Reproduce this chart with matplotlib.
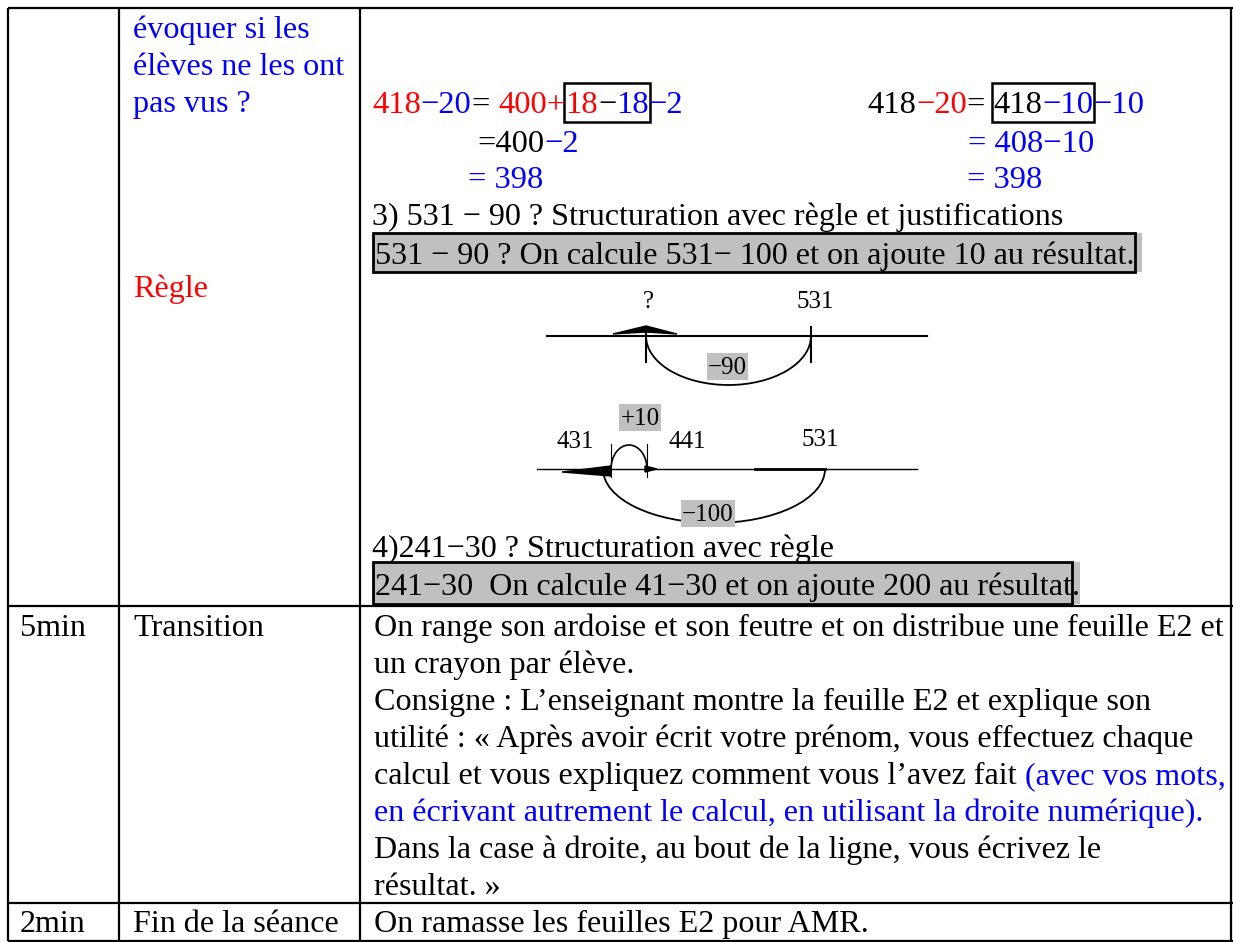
import matplotlib
matplotlib.use('Agg')
import matplotlib.pyplot as plt
from matplotlib.patches import Rectangle, Arc, Polygon

plt.rcParams['font.family'] = ['Liberation Serif', 'DejaVu Serif']

RED = '#ff0000'
BLUE = '#0000ff'
BLK = 'black'
GREY = '#c0c0c0'
FS = 23.1      # body text
FS_F = 23.4    # formulas
FS_NL = 18     # number line labels

# table text
col1 = ['5min', '2min']
col2_top_blue = ['évoquer si les', 'élèves ne les ont', 'pas vus ?']
col2_red = 'Règle'
col2 = ['Transition', 'Fin de la séance']

formula_left = [
    [('418', RED), ('−20', BLUE), ('= ', BLK), ('400+', RED), ('18', RED), ('−', BLK), ('18', BLUE), ('−2', BLUE)],
    [('=400', BLK), ('−2', BLUE)],
    [('= 398', BLUE)],
]
formula_right = [
    [('418', BLK), ('−20', RED), ('= ', BLK), ('418', BLK), ('−10', BLUE), ('−10', BLUE)],
    [('= 408−10', BLUE)],
    [('= 398', BLUE)],
]
step3 = '3) 531 − 90 ? Structuration avec règle et justifications'
rule3 = '531 − 90 ? On calcule 531− 100 et on ajoute 10 au résultat.'
step4 = '4)241−30 ? Structuration avec règle'
rule4 = '241−30  On calcule 41−30 et on ajoute 200 au résultat'

transition = [
    [('On range son ardoise et son feutre et on distribue une feuille E2 et', BLK)],
    [('un crayon par élève.', BLK)],
    [('Consigne : L’enseignant montre la feuille E2 et explique son', BLK)],
    [('utilité : « Après avoir écrit votre prénom, vous effectuez chaque', BLK)],
    [('calcul et vous expliquez comment vous l’avez fait ', BLK), ('(avec vos mots,', BLUE)],
    [('en écrivant autrement le calcul, en utilisant la droite numérique).', BLUE)],
    [('Dans la case à droite, au bout de la ligne, vous écrivez le', BLK)],
    [('résultat. »', BLK)],
]
fin = 'On ramasse les feuilles E2 pour AMR.'

# number lines
nl1_labels = ['?', '531']
nl1_jump = '−90'
nl2_labels = ['431', '441', '531']
nl2_jumps = ['+10', '−100']

fig = plt.figure(figsize=(12.33, 9.42), dpi=100)
ax = fig.add_axes([0, 0, 1, 1])
ax.set_xlim(0, 1233)
ax.set_ylim(942, 0)
ax.axis('off')
r = fig.canvas.get_renderer()


def width(s, size=FS):
    t = ax.text(0, 0, '|' + s + '|', fontsize=size)
    t2 = ax.text(0, 0, '||', fontsize=size)
    w = t.get_window_extent(r).width - t2.get_window_extent(r).width
    t.remove()
    t2.remove()
    return w


def runs(x, y, parts, size=FS):
    xs = [x]
    for s, c in parts:
        ax.text(x, y, s, color=c, fontsize=size, va='baseline', ha='left')
        x += width(s, size)
        xs.append(x)
    return xs


def label(x, y, s, size=FS_NL, bg=False):
    if bg:
        w = width(s, size)
        ax.add_patch(Rectangle((x - w / 2 - 1, y - 21), w + 2, 27, color=GREY, lw=0, zorder=1))
    ax.text(x, y, s, fontsize=size, ha='center', va='baseline', zorder=2)


# table borders
lw = 1.6
for y in [8, 606, 903, 941]:
    ax.plot([8, 1233], [y, y], color='black', lw=lw, solid_capstyle='butt')
for x in [8, 119, 360, 1231]:
    ax.plot([x, x], [8, 941], color='black', lw=lw, solid_capstyle='butt')

# column 2, first row
for i, s in enumerate(col2_top_blue):
    ax.text(133, 38 + 37 * i, s, color=BLUE, fontsize=FS, va='baseline')
ax.text(133, 297, col2_red, color=RED, fontsize=FS, va='baseline')

# formulas
ys = [113, 152, 188]
xs = runs(372, ys[0], formula_left[0], FS_F)
ax.add_patch(Rectangle((xs[4] - 1, 83), xs[7] - xs[4] + 2, 39, fill=False, ec='black', lw=1.8))
runs(477, ys[1], formula_left[1], FS_F)
runs(468, ys[2], formula_left[2], FS_F)

xs = runs(867, ys[0], formula_right[0], FS_F)
ax.add_patch(Rectangle((xs[3] - 1, 83), xs[5] - xs[3] + 2, 39, fill=False, ec='black', lw=1.8))
runs(968, ys[1], formula_right[1], FS_F)
runs(967, ys[2], formula_right[2], FS_F)

# step 3 and rule box
ax.text(372, 225, step3, fontsize=FS, va='baseline')
w = width(rule3)
ax.add_patch(Rectangle((373, 233), w + 9, 39, color=GREY, lw=0, zorder=0))
ax.add_patch(Rectangle((373, 233), w + 2, 39, fill=False, ec='black', lw=2, zorder=3))
ax.text(375, 264, rule3, fontsize=FS, va='baseline')

# number line 1
ax.plot([547, 927], [336, 336], color='black', lw=1.5)
for x in [646, 811]:
    ax.plot([x, x], [327, 362], color='black', lw=1.5)
ax.add_patch(Arc((728.5, 336), 165, 98, theta1=0, theta2=180, color='black', lw=1.3))
ax.add_patch(Polygon([(613, 334), (646, 326), (677, 334), (646, 332)], closed=True, color='black'))
label(648, 308, nl1_labels[0])
label(815, 308, nl1_labels[1])
label(727, 374, nl1_jump, bg=True)

# number line 2
ax.plot([537, 917], [469, 469], color='black', lw=1.0)
ax.plot([755, 825], [469, 469], color='black', lw=2.0)
for x in [611, 647]:
    ax.plot([x, x], [444, 477], color='black', lw=0.8)
ax.add_patch(Arc((629, 469), 36, 48, theta1=180, theta2=360, color='black', lw=1.2))
ax.add_patch(Arc((714, 469), 222, 108, theta1=0, theta2=180, color='black', lw=1.3))
ax.add_patch(Polygon([(562, 472), (611, 466), (611, 476)], closed=True, color='black'))
ax.add_patch(Polygon([(645, 466), (657, 469), (645, 472)], closed=True, color='black'))
label(640, 425, nl2_jumps[0], bg=True)
label(575, 448, nl2_labels[0])
label(687, 448, nl2_labels[1])
label(820, 446, nl2_labels[2])
label(708, 521, nl2_jumps[1], bg=True)

# step 4 and rule box
ax.text(372, 557, step4, fontsize=FS, va='baseline')
w = width(rule4)
ax.add_patch(Rectangle((373, 562), w + 10, 42, color=GREY, lw=0, zorder=0))
ax.add_patch(Rectangle((373, 562), w + 2, 42, fill=False, ec='black', lw=2, zorder=3))
ax.text(375, 595, rule4 + '.', fontsize=FS, va='baseline')

# row 2
ax.text(20, 636, col1[0], fontsize=FS, va='baseline')
ax.text(133, 636, col2[0], fontsize=FS, va='baseline')
for i, parts in enumerate(transition):
    runs(374, 636 + 37 * i, parts)

# row 3
ax.text(20, 932, col1[1], fontsize=FS, va='baseline')
ax.text(133, 932, col2[1], fontsize=FS, va='baseline')
ax.text(374, 932, fin, fontsize=FS, va='baseline')

fig.savefig('out.png', dpi=100)
